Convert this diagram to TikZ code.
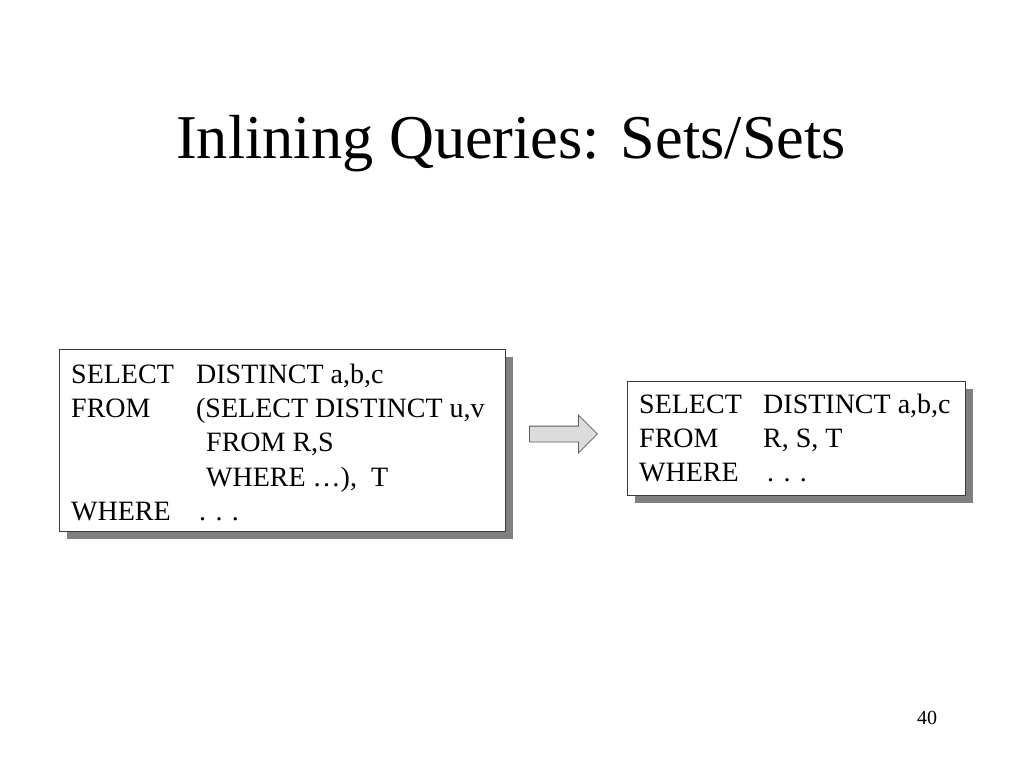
\documentclass[tikz,border=0pt]{standalone}
\usepackage{fontspec}
\setmainfont{Liberation Serif}
\usepackage{tikz}
\usetikzlibrary{shapes.arrows, shadows, positioning, calc}
\usepackage{xcolor}
\definecolor{boxline}{HTML}{3A3A3A}
\definecolor{shadowgray}{HTML}{808080}
\definecolor{arrowfill}{HTML}{DCDCDC}
\definecolor{arrowline}{HTML}{5A5A5A}

\begin{document}
\begin{tikzpicture}[
    x=1pt, y=-1pt,
    every node/.style={inner sep=0pt},
    querybox/.style={draw=boxline, fill=white, line width=0.8pt, anchor=north west,
        drop shadow={shadow xshift=8pt, shadow yshift=-8pt, fill=shadowgray, opacity=1}},
    querytext/.style={anchor=base west, font=\fontsize{28}{34.4}\selectfont},
    flowarrow/.style={single arrow, draw=arrowline, fill=arrowfill, line width=0.8pt,
        inner xsep=0pt, inner ysep=7.5pt, minimum height=68pt,
        single arrow head extend=11pt, anchor=west}
]
    \useasboundingbox (0,0) rectangle (1024,768);

    % title and slide number
    \node[anchor=base, font=\fontsize{62.3}{70}\selectfont] (title) at (511,158) {Inlining Queries: Sets/Sets};
    \node[anchor=base, font=\fontsize{20}{24}\selectfont] (pagenum) at (927,724) {40};

    % nested query
    \node[querybox, minimum width=446pt, minimum height=182pt] (oldq) at (59,349) {};
    \node[querytext] (oldtxt) at ([shift={(12,34)}]oldq.north west) {%
        \begin{tabular}[t]{@{}p{125pt}@{}l@{}}
        SELECT & DISTINCT a,b,c\\
        FROM   & (SELECT DISTINCT u,v\\
               & \hspace{10pt}FROM R,S\\
               & \hspace{10pt}WHERE \dots),\ \ T\\
        WHERE  & \hspace{3pt}. . .
        \end{tabular}};

    % rewrite arrow
    \node[flowarrow] (rewrite) at (529,434) {};

    % flattened query
    \node[querybox, minimum width=338pt, minimum height=114pt] (newq) at (627,381) {};
    \node[querytext] (newtxt) at ([shift={(12,32)}]newq.north west) {%
        \begin{tabular}[t]{@{}p{124pt}@{}l@{}}
        SELECT & DISTINCT a,b,c\\
        FROM   & R, S, T\\
        WHERE  & \hspace{4pt}. . .
        \end{tabular}};
\end{tikzpicture}
\end{document}
